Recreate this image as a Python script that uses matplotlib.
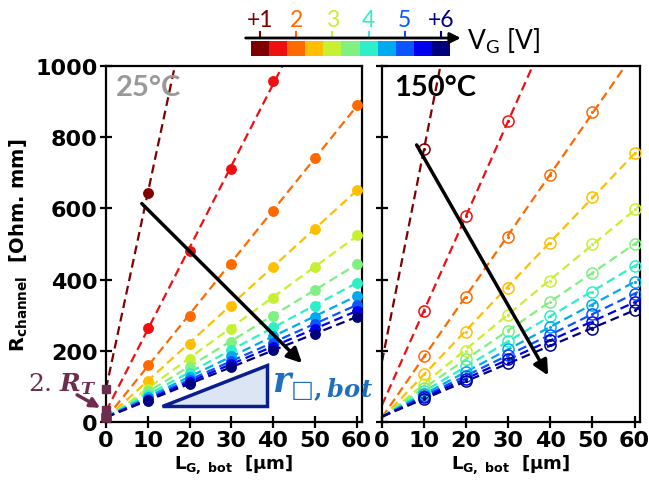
import numpy as np
import matplotlib
matplotlib.use('Agg')
import matplotlib.pyplot as plt
from matplotlib.patches import Polygon

# Données
vg = [1, 1.5, 2, 2.5, 3, 3.5, 4, 4.5, 5, 5.5, 6]
lg = [10, 20, 30, 40, 50, 60]
cores = ['#800000', '#ee1010', '#ff6a00', '#ffbf00', '#c8f032', '#80f080',
         '#2ef0c8', '#00aaf0', '#0a55ff', '#0000ee', '#00007f']
nan = np.nan

# 25°C (symboles pleins)
r_25 = [
    [643, nan, nan, nan, nan, nan],
    [264, 480, 711, 958, nan, nan],
    [160, 297, 444, 593, 742, 890],
    [115, 218, 327, 435, 543, 653],
    [94, 177, 262, 348, 436, 526],
    [86, 155, 225, 299, 371, 444],
    [77, 138, 203, 267, 326, 391],
    [71, 126, 185, 241, 295, 355],
    [66, 118, 172, 222, 276, 329],
    [63, 112, 163, 212, 262, 312],
    [60, 106, 155, 201, 248, 295],
]
rt_25 = [93, 34, 14, 14, 14, 14, 14, 14, 14, 14, 14]

# 150°C (symboles ouverts)
r_150 = [
    [768, nan, nan, nan, nan, nan],
    [313, 580, 846, nan, nan, nan],
    [186, 352, 520, 695, 872, nan],
    [135, 253, 376, 503, 633, 757],
    [107, 200, 300, 396, 500, 599],
    [96, 177, 257, 338, 419, 500],
    [86, 156, 227, 298, 366, 439],
    [78, 141, 205, 268, 329, 394],
    [73, 130, 188, 245, 304, 360],
    [69, 122, 176, 230, 281, 337],
    [65, 115, 165, 215, 262, 315],
]
rt_150 = [170, 48, 15, 15, 15, 15, 15, 15, 15, 15, 15]

xticks = [0, 10, 20, 30, 40, 50, 60]
yticks = [0, 200, 400, 600, 800, 1000]
cb_labels = ['+1', '2', '3', '4', '5', '+6']
cb_idx = [0, 2, 4, 6, 8, 10]

roxo = '#6e2c4e'
azul_r = '#1f6fc0'

plt.rcParams['font.family'] = ['DejaVu Sans']
plt.rcParams['font.weight'] = 'bold'
plt.rcParams['mathtext.fontset'] = 'dejavusans'

fig = plt.figure(figsize=(6.49, 4.81), dpi=100)
ax1 = fig.add_axes([106/649, 58/481, 256/649, 356/481])
ax2 = fig.add_axes([382/649, 58/481, 258/649, 356/481])


def desenha(ax, dados, interc, aberto):
    xl = np.array([0, 62])
    for i, serie in enumerate(dados):
        y = np.array(serie, dtype=float)
        ok = ~np.isnan(y)
        xs = np.concatenate([[0], np.array(lg)[ok]])
        ys = np.concatenate([[interc[i]], y[ok]])
        a, b = np.polyfit(xs, ys, 1)
        ax.plot(xl, a * xl + b, ls=(0, (4, 2.2)), lw=1.6, color=cores[i], zorder=2)
        if aberto:
            ax.plot(lg, y, 'o', ms=8, mfc='none', mec=cores[i], mew=1.1, zorder=3)
            ax.plot(lg, y, '.', ms=2.5, color=cores[i], zorder=3)
        else:
            ax.plot(lg, y, 'o', ms=6.8, color=cores[i], zorder=3)
    ax.set_xlim(0, 61.3)
    ax.set_ylim(0, 1000)
    ax.set_xticks(xticks)
    ax.set_yticks(yticks)
    for s in ax.spines.values():
        s.set_linewidth(1.6)
    ax.tick_params(direction='inout', length=8, width=1.6, labelsize=16, pad=2)
    ax.set_xlabel(r'$\mathbf{L_{G,\ bot}}$  [µm]', fontsize=13, fontweight='bold', labelpad=1)


desenha(ax1, r_25, rt_25, False)
desenha(ax2, r_150, rt_150, True)
ax2.set_yticklabels([])
ax1.set_ylabel(r'$\mathbf{R_{channel}}$  [Ohm. mm]', fontsize=14, fontweight='bold', labelpad=4)

# quadrados 2.R_T
ax1.plot([0] * len(rt_25), rt_25, 's', ms=6, color=roxo, zorder=5, clip_on=False)

ax1.text(2.4, 940, '25°C', color='#999999', fontsize=21, fontweight='bold', va='center', family='Lato')
ax2.text(2.8, 940, '150°C', color='black', fontsize=21, fontweight='bold', va='center', family='Lato')

# setas pretas
ax1.annotate('', xy=(47.4, 160), xytext=(8.1, 619),
             arrowprops=dict(arrowstyle='-|>', lw=2.5, color='black', mutation_scale=22))
ax2.annotate('', xy=(39.8, 124), xytext=(7.9, 785),
             arrowprops=dict(arrowstyle='-|>', lw=2.5, color='black', mutation_scale=22))

# triangulo r_bot
tri = Polygon([[13.5, 45], [38.5, 45], [38.5, 160]], closed=True,
              facecolor='#dbe5f3', edgecolor='#0a1f8f', lw=2.5, zorder=4)
ax1.add_patch(tri)
ax1.text(39.8, 100, r'$r_{□,bot}$', color=azul_r, fontsize=25, va='center',
         math_fontfamily='dejavuserif', zorder=6)

# 2.R_T
ax1.text(-10.5, 110, r'2. $R_T$', color=roxo, fontsize=18, fontweight='normal',
         ha='center', va='center', family='DejaVu Serif', math_fontfamily='dejavuserif',
         clip_on=False)
ax1.annotate('', xy=(-0.8, 36), xytext=(-7.5, 80), annotation_clip=False,
             arrowprops=dict(arrowstyle='-|>', lw=2.5, color=roxo, mutation_scale=14))

# barra de cores
axc = fig.add_axes([251/649, (481-57)/481, 199/649, 15/481])
axc.bar(np.arange(len(vg)) + 0.5, 1, width=1, color=cores)
axc.set_xlim(0, len(vg))
axc.set_ylim(0, 1)
axc.axis('off')
axc.annotate('', xy=(11.75, 1.2), xytext=(-0.45, 1.2), annotation_clip=False,
             arrowprops=dict(arrowstyle='-|>', lw=2, color='black', mutation_scale=16))
for lab, k in zip(cb_labels, cb_idx):
    axc.plot([k + 0.5, k + 0.5], [1.2, 1.6], color=cores[k], lw=1.5, clip_on=False)
    axc.text(k + 0.5, 2.45, lab, color=cores[k], fontsize=16.5, fontweight='normal',
             ha='center', va='center', family='Lato')
axc.text(11.95, 1.05, r'V$_\mathregular{G}$ [V]', fontsize=19, fontweight='normal',
         va='center', ha='left', family='Lato')

fig.savefig('out.png', dpi=100)
